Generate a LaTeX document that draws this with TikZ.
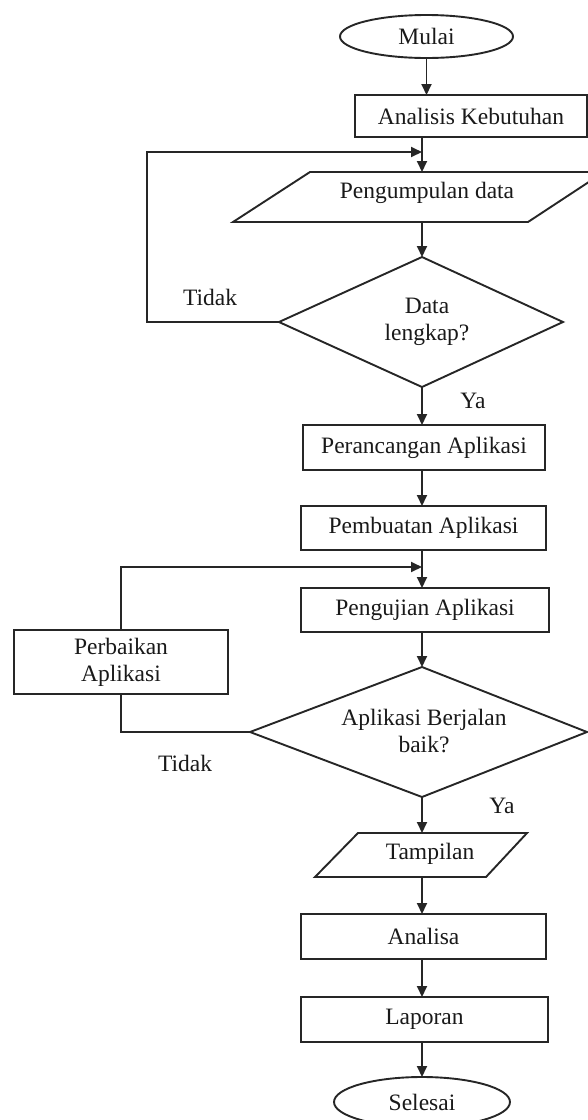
\documentclass[tikz,border=0pt]{standalone}
\usepackage{fontspec}
\setmainfont{Liberation Serif}
\usetikzlibrary{shapes.geometric,arrows.meta}
\begin{document}
\begin{tikzpicture}[x=1pt,y=-1pt, line width=1.9pt, draw=black!85,
  font=\fontsize{23.5}{27}\selectfont,
  every node/.style={inner sep=0pt, outer sep=0pt, text=black!90},
  proc/.style={draw, rectangle, align=center},
  term/.style={draw, ellipse},
  arr/.style={-{Triangle[length=11pt,width=10pt]}}]
\useasboundingbox (0,0) rectangle (588,1120);
\coordinate (ax) at (422,0);

% Start
\node[term, minimum width=173pt, minimum height=43pt] (mulai) at (426.5,36.5) {Mulai};
\node[proc, minimum width=232pt, minimum height=42pt] (ak) at (471,116) {Analisis Kebutuhan};
\draw[arr] (mulai.south) -- (mulai.south |- ak.north);

% Pengumpulan data (parallelogram)
\coordinate (pdN) at (422,172);
\coordinate (pdS) at (422,222);
\coordinate (j1) at (422,152);
\coordinate (loop1) at (147,152);
\draw (310,172) -- (604,172) -- (528,222) -- (233,222) -- cycle;
\node (pd) at (427,193) {Pengumpulan data};
\draw[arr] (ak.south -| ax) -- (pdN);

% Decision 1
\coordinate (d1N) at (422,257);
\coordinate (d1E) at (563,322);
\coordinate (d1S) at (422,387);
\coordinate (d1W) at (279,322);
\draw (d1N) -- (d1E) -- (d1S) -- (d1W) -- cycle;
\node[align=center] (d1) at (427,322) {Data\\lengkap?};
\draw[arr] (pdS) -- (d1N);
\draw[arr] (d1W) -| (loop1) -- (j1);
\node (tidak1) at (210,297) {Tidak};
\node (ya1) at (473,401) {Ya};

% Process boxes
\node[proc, minimum width=242pt, minimum height=45pt] (pr) at (424,447.5) {Perancangan Aplikasi};
\draw[arr] (d1S) -- (pr.north -| ax);
\node[proc, minimum width=245pt, minimum height=44pt] (pb) at (423.5,528) {Pembuatan Aplikasi};
\draw[arr] (pr.south -| ax) -- (pb.north -| ax);
\coordinate (j2) at (422,567);
\node[proc, minimum width=248pt, minimum height=44pt] (pu) at (425,610) {Pengujian Aplikasi};
\draw[arr] (pb.south -| ax) -- (pu.north -| ax);

% Perbaikan
\node[proc, minimum width=214pt, minimum height=64pt, align=center] (pf) at (121,662) {Perbaikan\\Aplikasi};
\draw[arr] (pf.north) |- (j2);

% Decision 2
\coordinate (d2N) at (422,667);
\coordinate (d2E) at (587,732);
\coordinate (d2S) at (422,797);
\coordinate (d2W) at (250,732);
\draw (d2N) -- (d2E) -- (d2S) -- (d2W) -- cycle;
\node[align=center] (d2) at (424,731) {Aplikasi Berjalan\\baik?};
\draw[arr] (pu.south -| ax) -- (d2N);
\draw (d2W) -| (pf.south);
\node (tidak2) at (185,763) {Tidak};
\node (ya2) at (502,806) {Ya};

% Tampilan (parallelogram)
\coordinate (tpN) at (422,833);
\coordinate (tpS) at (422,877);
\draw (358,833) -- (527,833) -- (486,877) -- (315,877) -- cycle;
\node (tp) at (430,854) {Tampilan};
\draw[arr] (d2S) -- (tpN);

% Final steps
\node[proc, minimum width=245pt, minimum height=45pt] (an) at (423.5,936.5) {Analisa};
\draw[arr] (tpS) -- (an.north -| ax);
\node[proc, minimum width=247pt, minimum height=45pt] (lp) at (424.5,1019.5) {Laporan};
\draw[arr] (an.south -| ax) -- (lp.north -| ax);
\node[term, minimum width=176pt, minimum height=50pt] (sl) at (422,1102) {Selesai};
\draw[arr] (lp.south -| ax) -- (sl.north);
\end{tikzpicture}
\end{document}
